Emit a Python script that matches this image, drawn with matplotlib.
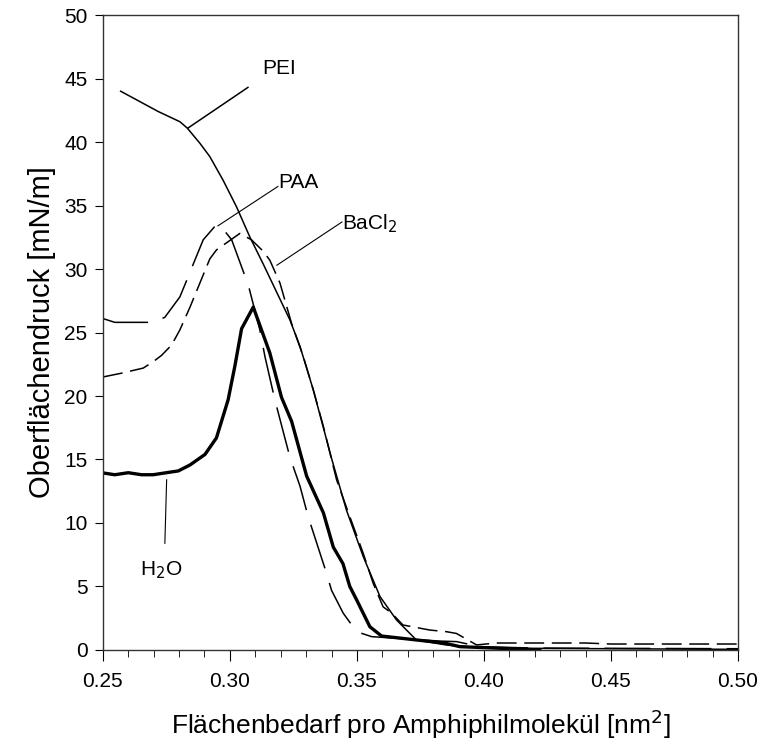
import numpy as np
import matplotlib.pyplot as plt
from matplotlib.ticker import MultipleLocator

plt.rcParams['font.family'] = ['Liberation Sans', 'DejaVu Sans']

# Isothermen
x_h2o = [0.2495, 0.2547, 0.260, 0.2652, 0.2698, 0.275, 0.2797, 0.2843, 0.2902, 0.2947,
         0.2993, 0.302, 0.3046, 0.3092, 0.3157, 0.3203, 0.3243, 0.3302, 0.3368, 0.3407,
         0.3445, 0.3472, 0.350, 0.3551, 0.3597, 0.3734, 0.3843, 0.3906, 0.3985, 0.422]
y_h2o = [13.96, 13.8, 13.96, 13.8, 13.8, 13.96, 14.1, 14.57, 15.4, 16.7,
         19.7, 22.4, 25.3, 27.0, 23.4, 19.9, 18.0, 13.7, 10.8, 8.1,
         6.8, 5.0, 3.9, 1.83, 1.1, 0.79, 0.55, 0.26, 0.2, 0.0]

x_pei = [0.257, 0.2718, 0.2803, 0.2832, 0.2882, 0.2921, 0.2973, 0.3026, 0.3079, 0.3131,
         0.3236, 0.3276, 0.3328, 0.340, 0.3459, 0.3525, 0.3591, 0.3656, 0.3734, 0.385,
         0.400, 0.450, 0.500]
y_pei = [44.0, 42.4, 41.6, 41.1, 39.9, 38.85, 37.0, 34.9, 32.5, 30.4,
         26.0, 23.9, 20.5, 15.1, 11.0, 7.35, 4.2, 2.36, 0.79, 0.4,
         0.15, 0.1, 0.05]

x_paa = [0.250, 0.2547, 0.2700, 0.2744, 0.2803, 0.2836, 0.2856, 0.2895, 0.2947, 0.2967,
         0.3007, 0.3073, 0.3118, 0.3138, 0.3177, 0.3236, 0.3276, 0.3308, 0.3381, 0.340,
         0.3446, 0.3499, 0.3558, 0.3827, 0.3892, 0.3985, 0.420, 0.500]
y_paa = [26.1, 25.8, 25.8, 26.2, 27.8, 29.4, 30.4, 32.3, 33.5, 33.3,
         32.3, 28.7, 25.2, 23.1, 19.7, 15.2, 12.9, 10.5, 6.0, 4.7,
         2.9, 1.44, 1.05, 0.7, 0.66, 0.26, 0.15, 0.1]

x_bacl = [0.2501, 0.2574, 0.2659, 0.2698, 0.2731, 0.277, 0.2803, 0.2843, 0.2882, 0.2921,
          0.2947, 0.2993, 0.3039, 0.3085, 0.3131, 0.3157, 0.3197, 0.3243, 0.3289, 0.3328,
          0.3368, 0.3394, 0.342, 0.3472, 0.3525, 0.3564, 0.3603, 0.3637, 0.3681, 0.3787,
          0.3853, 0.3892, 0.3971, 0.405, 0.440, 0.450, 0.500]
y_bacl = [21.5, 21.8, 22.2, 22.7, 23.2, 24.0, 25.2, 27.0, 28.9, 30.8,
          31.5, 32.15, 32.8, 32.3, 31.4, 30.7, 28.9, 25.7, 23.1, 20.5,
          17.6, 15.5, 13.4, 10.5, 7.6, 5.25, 3.4, 2.9, 1.97, 1.57,
          1.44, 1.3, 0.4, 0.55, 0.55, 0.47, 0.47]

xticks = [0.25, 0.30, 0.35, 0.40, 0.45, 0.50]

fig = plt.figure(figsize=(7.62, 7.51), dpi=100)
ax = fig.add_axes([0.135, 0.1345, 0.8335, 0.8455])

ax.plot(x_pei, y_pei, color='black', lw=1.1)
ax.plot(x_bacl, y_bacl, color='black', lw=1.1, dashes=(13, 5))
ax.plot(x_paa, y_paa, color='black', lw=1.1, dashes=(30, 10))
ax.plot(x_h2o, y_h2o, color='black', lw=2.4)

# Beschriftungen mit Hinweislinien
fs = 15
ax.plot([0.2835, 0.3071], [41.1, 44.3], color='black', lw=1.1)
ax.text(0.3126, 45.8, 'PEI', fontsize=fs, va='center', ha='left')
ax.plot([0.2953, 0.3189], [33.4, 36.5], color='black', lw=0.8)
ax.text(0.3189, 36.8, 'PAA', fontsize=fs, va='center', ha='left')
ax.plot([0.3185, 0.3441], [30.3, 33.7], color='black', lw=0.8)
ax.text(0.3443, 33.6, 'BaCl$_2$', fontsize=fs, va='center', ha='left')
ax.plot([0.2751, 0.2744], [13.4, 8.4], color='black', lw=0.8)
ax.text(0.2646, 6.3, 'H$_2$O', fontsize=fs, va='center', ha='left')

ax.set_xlim(0.25, 0.50)
ax.set_ylim(0, 50)
ax.set_xticks(xticks)
ax.set_xticklabels(['%.2f' % v for v in xticks])
ax.xaxis.set_minor_locator(MultipleLocator(0.01))
ax.yaxis.set_major_locator(MultipleLocator(5))
ax.tick_params(axis='both', direction='out', labelsize=15, colors='black')
ax.tick_params(axis='x', which='major', length=8, pad=8)
ax.tick_params(axis='x', which='minor', length=5)
ax.tick_params(axis='y', which='major', length=6, pad=5)
for s in ax.spines.values():
    s.set_linewidth(1.0)
    s.set_color('#333333')

ax.set_xlabel('Flächenbedarf pro Amphiphilmolekül [nm$^2$]', fontsize=19, labelpad=12)
ax.set_ylabel('Oberflächendruck [mN/m]', fontsize=21, labelpad=6)

fig.savefig('out.png', dpi=100)
